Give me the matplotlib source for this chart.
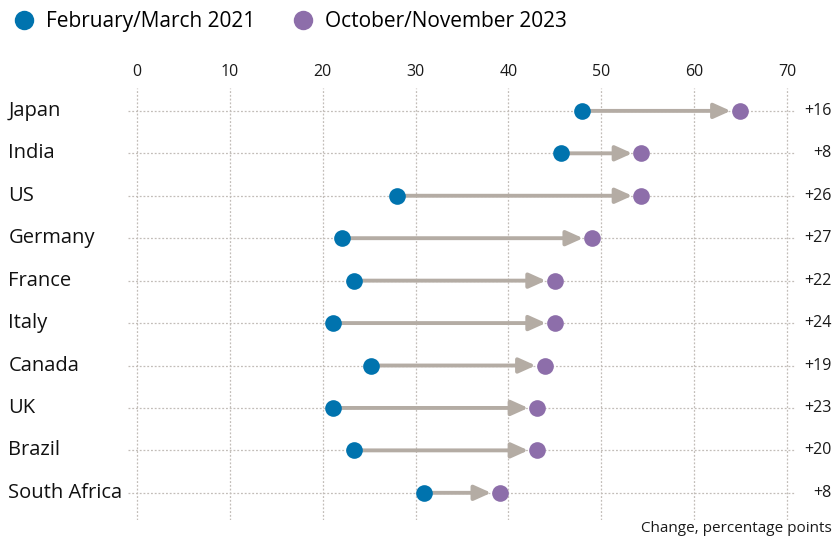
import numpy as np
from matplotlib import pyplot as plt
from matplotlib.lines import Line2D
from matplotlib.transforms import blended_transform_factory

plt.rcParams['font.family'] = ['Open Sans', 'DejaVu Sans']

countries = ['Japan', 'India', 'US', 'Germany', 'France', 'Italy',
             'Canada', 'UK', 'Brazil', 'South Africa']
feb_mar_2021 = [47.9, 45.7, 28.0, 22.1, 23.4, 21.1, 25.2, 21.1, 23.4, 30.9]
oct_nov_2023 = [64.9, 54.3, 54.3, 49.0, 45.0, 45.0, 43.9, 43.1, 43.1, 39.1]
change_labels = ['+16', '+8', '+26', '+27', '+22', '+24', '+19', '+23', '+20', '+8']
xticks = [0, 10, 20, 30, 40, 50, 60, 70]

blue = '#0073AE'
purple = '#8D6EAA'
arrow_col = '#B4ACA4'
grid_col = '#C2BDB8'

fig = plt.figure(figsize=(8.35, 5.43), dpi=100)
ax = fig.add_axes([0.153, 0.0424, 0.8007, 0.7956])

y = np.arange(len(countries))

for yi in y:
    ax.axhline(yi, color=grid_col, lw=0.9, ls=(0, (1.5, 1.5)), zorder=0)
for xt in xticks:
    ax.axvline(xt, color=grid_col, lw=0.9, ls=(0, (1.5, 1.5)), zorder=0)

for yi, a, b in zip(y, feb_mar_2021, oct_nov_2023):
    ax.annotate('', xy=(b, yi), xytext=(a, yi),
                arrowprops=dict(arrowstyle='-|>,head_length=1.0,head_width=0.45',
                                color=arrow_col, lw=2.8, shrinkA=0, shrinkB=6.5),
                zorder=2)

ax.plot(feb_mar_2021, y, 'o', color=blue, ms=12, mec='none', zorder=3)
ax.plot(oct_nov_2023, y, 'o', color=purple, ms=12, mec='none', zorder=3)

ax.set_xlim(-1, 71)
ax.set_ylim(len(countries) - 1 + 0.64, -0.54)
ax.set_xticks(xticks)
ax.xaxis.tick_top()
ax.tick_params(axis='x', length=0, pad=6, labelsize=11.5, colors='#1a1a1a')
ax.set_yticks([])
for s in ax.spines.values():
    s.set_visible(False)

trans = blended_transform_factory(fig.transFigure, ax.transData)
for yi, name, lab in zip(y, countries, change_labels):
    fig.text(0.01, yi, name, transform=trans, ha='left', va='center',
             fontsize=14.5, color='#111111')
    fig.text(0.996, yi, lab, transform=trans, ha='right', va='center',
             fontsize=11.5, color='#1a1a1a')

fig.text(0.996, 0.012, 'Change, percentage points', ha='right', va='bottom',
         fontsize=11, color='#1a1a1a')

handles = [Line2D([], [], marker='o', ls='none', color=blue, ms=14, mec='none'),
           Line2D([], [], marker='o', ls='none', color=purple, ms=14, mec='none')]
fig.legend(handles, ['February/March 2021', 'October/November 2023'], ncol=2,
           loc='upper left', bbox_to_anchor=(-0.006, 1.014), frameon=False,
           fontsize=15, handletextpad=0.55, columnspacing=1.8, handlelength=1.0)

fig.savefig('out.png', dpi=100)
